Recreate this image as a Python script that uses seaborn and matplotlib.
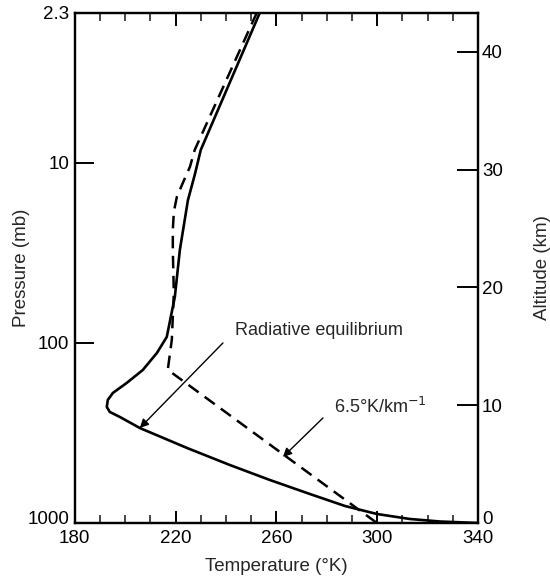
import matplotlib
matplotlib.use("Agg")
import matplotlib.pyplot as plt
import seaborn as sns
import pandas as pd
from matplotlib.ticker import FixedLocator, FixedFormatter, MultipleLocator, NullLocator
from matplotlib.transforms import ScaledTranslation

# ---- data ----
rad_T = [253.4, 230.0, 227.6, 224.9, 221.7, 219.7, 216.5, 212.6, 207.0, 200.6,
         195.1, 193.1, 192.7, 193.9, 197.9, 205.8, 224.5, 241.5, 257.4, 273.3,
         287.2, 299.9, 313.0, 324.9, 340.0]
rad_p = [1.47, 8.47, 11.66, 16.1, 30.4, 55.5, 92.6, 113.6, 141.3, 166.8,
         189.6, 207.3, 226.8, 241.8, 257.8, 296.8, 383.0, 476.2, 576.9, 690.2,
         804.4, 891.3, 950.1, 981.0, 1000.0]

lapse_T = [252.2, 227.6, 225.7, 222.9, 220.5, 219.3, 218.9, 218.9, 219.3, 218.5,
           216.9, 299.9]
lapse_p = [1.47, 8.47, 10.52, 12.9, 15.45, 18.72, 23.57, 30.4, 52.8, 96.2,
           141.0, 1000.0]

temp_ticks = [180, 220, 260, 300, 340]
pressure_ticks = [1.47, 10, 100, 1000]
pressure_labels = ["2.3", "10", "100", "1000"]
altitude_ticks = [0, 10, 20, 30, 40]

rad_df = pd.DataFrame({"T": rad_T, "p": rad_p})
lapse_df = pd.DataFrame({"T": lapse_T, "p": lapse_p})

# ---- style ----
sns.set_style("ticks")
plt.rcParams["font.family"] = ["Liberation Sans", "DejaVu Sans"]
plt.rcParams["axes.linewidth"] = 1.6

FS = 13.5

fig = plt.figure(figsize=(5.5, 5.77), dpi=100)
ax = fig.add_axes([0.136, 0.0936, 0.733, 0.884])

sns.lineplot(data=rad_df, x="T", y="p", sort=False, estimator=None,
             color="black", lw=1.9, ax=ax)
sns.lineplot(data=lapse_df, x="T", y="p", sort=False, estimator=None,
             color="black", lw=1.8, ax=ax, linestyle=(0, (5, 3)))

ax.set_yscale("log")
ax.set_xlim(180, 340)
ax.set_ylim(1000, 1.47)

ax.xaxis.set_major_locator(FixedLocator(temp_ticks))
ax.xaxis.set_minor_locator(MultipleLocator(10))
ax.yaxis.set_major_locator(FixedLocator(pressure_ticks))
ax.yaxis.set_major_formatter(FixedFormatter(pressure_labels))
ax.yaxis.set_minor_locator(NullLocator())

ax.tick_params(axis="x", which="major", direction="in", length=9, width=1.4,
               top=True, bottom=True, labelsize=FS, pad=5, colors="black")
ax.tick_params(axis="x", which="minor", direction="in", length=6, width=1.2,
               top=True, bottom=True)
ax.tick_params(axis="y", which="major", direction="in", length=14, width=1.4,
               left=True, right=False, labelsize=FS, pad=4, colors="black")

ax.set_xlabel("Temperature (\u00b0K)", fontsize=FS, labelpad=8)
ax.set_ylabel("Pressure (mb)", fontsize=FS, labelpad=-2)

for s in ax.spines.values():
    s.set_visible(True)
    s.set_color("black")

ax2 = ax.twinx()
ax2.set_ylim(0, 43.3)
ax2.yaxis.set_major_locator(FixedLocator(altitude_ticks))
ax2.tick_params(axis="y", which="major", direction="in", length=15, width=1.4,
                labelsize=FS, pad=3, colors="black")
ax2.set_ylabel("Altitude (km)", fontsize=FS, labelpad=22)
for s in ax2.spines.values():
    s.set_linewidth(1.6)
    s.set_color("black")

# nudge the bottom labels of the two y axes up a little (as in the reference)
up = ScaledTranslation(0, 4 / 72, fig.dpi_scale_trans)
t_left = ax.yaxis.get_major_ticks()[3].label1
t_left.set_transform(t_left.get_transform() + up)
t_right = ax2.yaxis.get_major_ticks()[0].label2
t_right.set_transform(t_right.get_transform() + up)

# ---- annotations ----
ax.annotate("", xy=(205.8, 296.8), xytext=(238.8, 100.0),
            arrowprops=dict(arrowstyle="-|>", color="black", lw=1.0,
                            mutation_scale=13, shrinkA=0, shrinkB=0))
ax.text(243.5, 85.8, "Radiative equilibrium", fontsize=13, ha="left", va="center")

ax.annotate("", xy=(262.6, 430.0), xytext=(278.5, 261.0),
            arrowprops=dict(arrowstyle="-|>", color="black", lw=1.0,
                            mutation_scale=13, shrinkA=0, shrinkB=0))
ax.text(283.0, 226.0, "6.5\u00b0K/km$^{-1}$", fontsize=13, ha="left", va="center")

fig.savefig("out.png", dpi=100)
